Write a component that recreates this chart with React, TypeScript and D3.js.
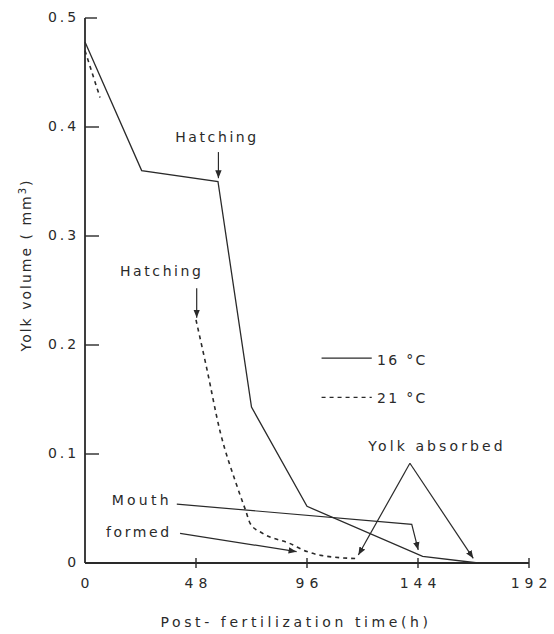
import React from "react";
import * as d3 from "d3";

// yolk volume (mm3) against hours after fertilization
const temp16 = [
  [0, 0.478], [24.5, 0.36], [57.5, 0.35], [72, 0.143],
  [96, 0.052], [146, 0.006], [170, 0],
];
// 21 C curve: short start, then from hatching on (null = gap)
const temp21 = [
  [0, 0.47], [6.5, 0.427], null,
  [48, 0.223], [52.5, 0.18], [58.5, 0.12], [65.5, 0.072], [69.5, 0.048],
  [71.5, 0.036], [77, 0.027], [88.5, 0.018], [96, 0.0105], [102, 0.007], [117.5, 0.004],
];
const xTicks = [0, 48, 96, 144, 192];
const yTicks = [0, 0.1, 0.2, 0.3, 0.4, 0.5];
const legendItems = ["16 °C", "21 °C"];

const W = 554, H = 634;
const font = "'DejaVu Sans', Verdana, sans-serif";
const ink = "#2a2a2a";

export default function App() {
  const x = d3.scaleLinear().domain([0, 192]).range([85, 529]);
  const y = d3.scaleLinear().domain([0, 0.5]).range([563, 18]);

  const line = d3.line<any>()
    .defined(d => d != null)
    .x(d => x(d[0]))
    .y(d => y(d[1]));
  const line21 = d3.line<any>()
    .defined(d => d != null)
    .x(d => x(d[0]))
    .y(d => y(d[1]))
    .curve(d3.curveMonotoneX);

  const txt = { fontFamily: font, fontSize: 14, fill: ink, letterSpacing: 3 } as any;

  // annotation anchors, in data units
  const arrow = (pts: number[][]) => d3.line()(pts.map(p => [x(p[0]), y(p[1])]) as any) as string;

  return (
    <svg width={W} height={H} style={{ position: "absolute", left: 0, top: 0, background: "#fff" }}>
      <defs>
        <marker id="ah" viewBox="0 0 10 10" refX="10" refY="5" markerWidth="8" markerHeight="8"
          markerUnits="userSpaceOnUse" orient="auto">
          <path d="M0,1 L10,5 L0,9 Z" fill={ink} />
        </marker>
      </defs>

      {/* axes */}
      <line x1={x(0)} x2={x(0)} y1={y(0.5)} y2={y(0)} stroke={ink} strokeWidth={1.8} />
      <line x1={x(0)} x2={x(192)} y1={y(0)} y2={y(0)} stroke={ink} strokeWidth={1.8} />
      {yTicks.map(t => (
        <g key={"y" + t}>
          {t > 0 && <line x1={x(0)} x2={x(0) + (t === 0.5 ? 12 : 14)} y1={y(t)} y2={y(t)} stroke={ink} strokeWidth={1.4} />}
          <text x={x(0) - 6} y={y(t)} textAnchor="end" dominantBaseline="middle" {...txt} letterSpacing={2.9}>
            {t === 0 ? "0" : d3.format(".1f")(t)}
          </text>
        </g>
      ))}
      {xTicks.map(t => (
        <g key={"x" + t}>
          {t > 0 && <line x1={x(t)} x2={x(t)} y1={y(0) - 5} y2={y(0) + 5} stroke={ink} strokeWidth={1.4} />}
          <text x={x(t) + (t > 9 ? 2.5 : 0)} y={588} textAnchor="middle" {...txt} letterSpacing={t > 9 ? 5 : 0}>
            {t}
          </text>
        </g>
      ))}

      <text transform={`translate(31,265) rotate(-90)`} textAnchor="middle" {...txt} letterSpacing={2}>
        Yolk volume ( mm<tspan dy={-5} fontSize={10}>3</tspan><tspan dy={5}>)</tspan>
      </text>
      <text x={296} y={627} textAnchor="middle" {...txt} letterSpacing={3.6}>Post- fertilization time(h)</text>

      {/* series */}
      <path d={line(temp16 as any) as string} fill="none" stroke={ink} strokeWidth={1.3} />
      <path d={line21(temp21 as any) as string} fill="none" stroke={ink} strokeWidth={1.6} strokeDasharray="4,4" />

      {/* hatching notes */}
      <text x={x(57.1)} y={y(0.3865)} textAnchor="middle" {...txt} letterSpacing={2.6}>Hatching</text>
      <path d={arrow([[57.7, 0.377], [57.7, 0.353]])} stroke={ink} strokeWidth={1.2} markerEnd="url(#ah)" />
      <text x={x(33.2)} y={y(0.263)} textAnchor="middle" {...txt} letterSpacing={2.6}>Hatching</text>
      <path d={arrow([[48.3, 0.252], [48.3, 0.225]])} stroke={ink} strokeWidth={1.2} markerEnd="url(#ah)" />

      {/* legend */}
      {legendItems.map((l, i) => (
        <g key={l}>
          <line x1={x(102.3)} x2={x(124)} y1={y(i === 0 ? 0.188 : 0.152)} y2={y(i === 0 ? 0.188 : 0.152)}
            stroke={ink} strokeWidth={1.3} strokeDasharray={i === 0 ? undefined : "4,4"} />
          <text x={x(126.3)} y={y(i === 0 ? 0.182 : 0.147)} {...txt} letterSpacing={2.3}>{l}</text>
        </g>
      ))}

      {/* yolk absorbed */}
      <text x={x(152.2)} y={y(0.103)} textAnchor="middle" {...txt} letterSpacing={3.1}>Yolk absorbed</text>
      <path d={arrow([[140.5, 0.0915], [118.2, 0.0073]])} fill="none" stroke={ink} strokeWidth={1.2} markerEnd="url(#ah)" />
      <path d={arrow([[140.5, 0.0915], [167.9, 0.0043]])} fill="none" stroke={ink} strokeWidth={1.2} markerEnd="url(#ah)" />

      {/* mouth formed */}
      <text x={x(37.5)} y={y(0.053)} textAnchor="end" {...txt} letterSpacing={3.2}>Mouth</text>
      <path d={arrow([[39.7, 0.054], [141.3, 0.0355], [144.1, 0.012]])} fill="none" stroke={ink} strokeWidth={1.2} markerEnd="url(#ah)" />
      <text x={x(37.5)} y={y(0.024)} textAnchor="end" {...txt} letterSpacing={2.6}>formed</text>
      <path d={arrow([[41.1, 0.0272], [91.5, 0.0104]])} fill="none" stroke={ink} strokeWidth={1.2} markerEnd="url(#ah)" />
    </svg>
  );
}
